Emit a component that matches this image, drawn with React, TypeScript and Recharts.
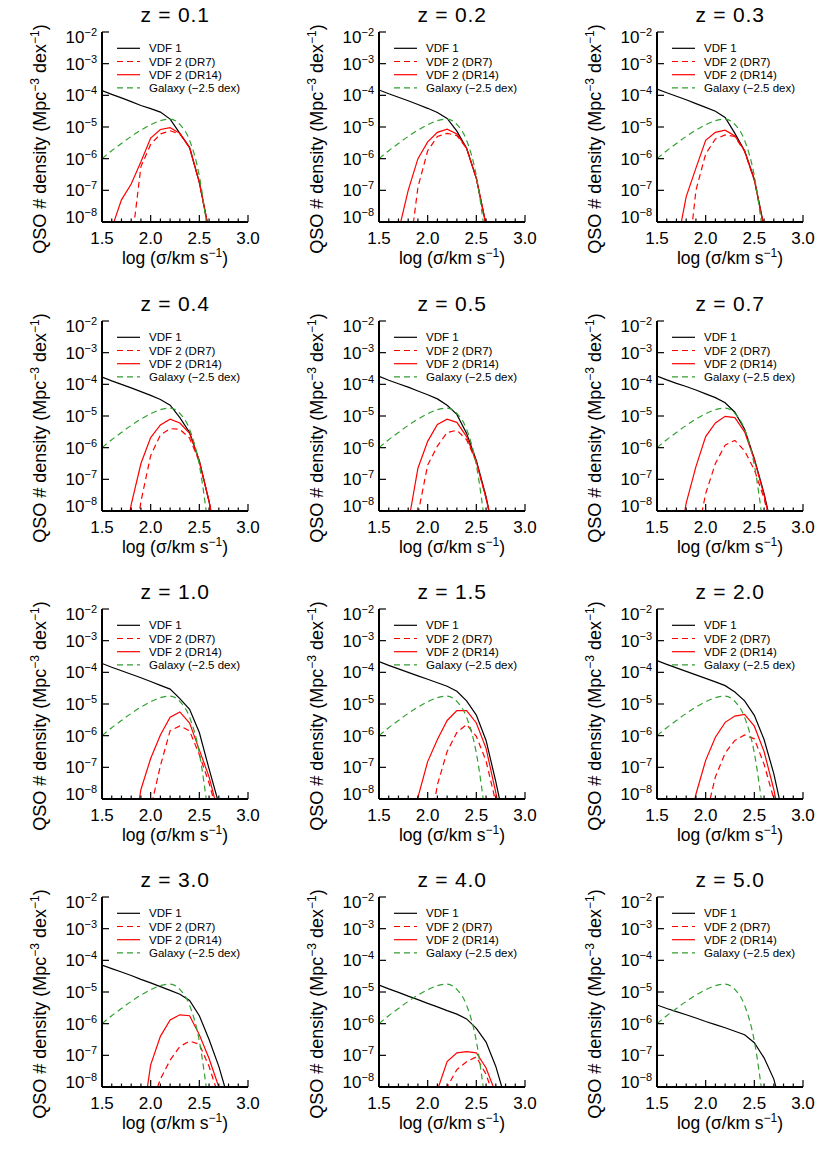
import React from 'react'
import { LineChart, Line, XAxis, YAxis, Customized } from 'recharts'

// log(sigma / km s^-1) points where the curves are read
const sigmaGrid = [1.5, 1.6, 1.7, 1.8, 1.9, 2.0, 2.1, 2.2, 2.3, 2.4, 2.5, 2.6, 2.7, 2.8]
const redshifts = ['0.1', '0.2', '0.3', '0.4', '0.5', '0.7', '1.0', '1.5', '2.0', '3.0', '4.0', '5.0']
const xTicks = [1.5, 1.6, 1.7, 1.8, 1.9, 2.0, 2.1, 2.2, 2.3, 2.4, 2.5, 2.6, 2.7, 2.8, 2.9, 3.0]
const xTickLabels = [1.5, 2.0, 2.5, 3.0]
const yTicks = [1e-8, 1e-7, 1e-6, 1e-5, 1e-4, 1e-3, 1e-2]

// log10 density, same galaxy curve in every panel
const galaxyLog = [-6.0, -5.75, -5.52, -5.3, -5.1, -4.93, -4.8, -4.75, -4.92, -5.42, -6.55, -8.7, null, null]

// log10 density, one row per redshift panel (null = not drawn)
const vdf1Log = [
  [-3.85, -3.97, -4.08, -4.2, -4.32, -4.42, -4.53, -4.75, -5.2, -5.65, -6.75, -8.3, null, null],
  [-3.83, -3.95, -4.06, -4.17, -4.29, -4.41, -4.54, -4.73, -5.13, -5.67, -6.62, -8.1, null, null],
  [-3.8, -3.92, -4.03, -4.14, -4.26, -4.38, -4.5, -4.7, -5.2, -5.75, -6.65, -8.15, null, null],
  [-3.77, -3.89, -4.0, -4.11, -4.23, -4.35, -4.48, -4.66, -5.05, -5.52, -6.42, -7.7, -9.3, null],
  [-3.75, -3.87, -3.98, -4.09, -4.21, -4.33, -4.46, -4.66, -4.95, -5.55, -6.4, -7.55, -9.0, null],
  [-3.74, -3.86, -3.97, -4.07, -4.18, -4.3, -4.42, -4.58, -4.88, -5.42, -6.35, -7.45, -8.8, null],
  [-3.72, -3.84, -3.95, -4.06, -4.17, -4.29, -4.41, -4.53, -4.83, -5.17, -5.9, -7.05, -8.15, null],
  [-3.66, -3.78, -3.89, -4.0, -4.11, -4.22, -4.33, -4.44, -4.6, -4.9, -5.35, -6.15, -7.45, -8.9],
  [-3.63, -3.75, -3.86, -3.97, -4.08, -4.19, -4.3, -4.42, -4.62, -4.9, -5.36, -6.12, -7.2, -8.6],
  [-4.15, -4.26, -4.37, -4.48, -4.6, -4.71, -4.83, -4.95, -5.07, -5.27, -5.75, -6.5, -7.35, -8.4],
  [-4.78, -4.9, -5.01, -5.13, -5.24, -5.36, -5.47, -5.59, -5.7, -5.85, -6.15, -6.58, -7.35, -8.4],
  [-5.41, -5.52, -5.62, -5.72, -5.82, -5.93, -6.03, -6.13, -6.24, -6.35, -6.6, -7.08, -7.75, -8.9],
]

const dr7Log = [
  [null, null, null, -8.8, -6.25, -5.55, -5.22, -5.12, -5.22, -5.65, -6.75, -8.3, null, null],
  [null, null, null, -9.3, -6.9, -5.75, -5.3, -5.2, -5.27, -5.67, -6.62, -8.1, null, null],
  [null, null, null, -9.8, -7.0, -5.85, -5.38, -5.25, -5.3, -5.77, -6.68, -8.2, null, null],
  [null, null, null, -9.8, -7.7, -6.25, -5.6, -5.4, -5.42, -5.7, -6.45, -7.7, -9.3, null],
  [null, null, null, null, -8.1, -6.55, -5.95, -5.52, -5.45, -5.75, -6.45, -7.6, -9.0, null],
  [null, null, null, null, -9.0, -7.45, -6.5, -5.92, -5.77, -6.1, -6.7, -7.6, -8.9, null],
  [null, null, null, null, -10.0, -8.3, -6.95, -5.84, -5.69, -5.85, -6.6, -7.5, -8.6, null],
  [null, null, null, null, null, -9.4, -7.55, -6.5, -5.9, -5.65, -6.02, -6.8, -8.1, -9.5],
  [null, null, null, null, null, -8.6, -7.3, -6.55, -6.15, -5.98, -6.1, -6.9, -8.0, -9.4],
  [null, null, null, null, null, -8.6, -7.75, -7.15, -6.72, -6.55, -6.65, -7.35, -8.3, -9.5],
  [null, null, null, null, null, null, -9.0, -8.0, -7.45, -7.2, -7.05, -7.6, -8.5, -9.6],
  [null, null, null, null, null, null, null, null, null, null, null, null, null, null],
]

const dr14Log = [
  [null, -8.2, -7.3, -6.8, -6.1, -5.35, -5.08, -5.02, -5.2, -5.65, -6.75, -8.3, null, null],
  [null, null, -8.3, -7.0, -6.0, -5.47, -5.17, -5.07, -5.22, -5.67, -6.62, -8.1, null, null],
  [null, null, -8.8, -7.2, -6.3, -5.42, -5.17, -5.1, -5.28, -5.75, -6.68, -8.2, null, null],
  [null, null, -9.5, -7.8, -6.5, -5.68, -5.28, -5.1, -5.22, -5.55, -6.42, -7.7, -9.3, null],
  [null, null, null, -8.4, -6.65, -5.8, -5.27, -5.1, -5.2, -5.65, -6.45, -7.6, -9.0, null],
  [null, null, -9.5, -7.75, -6.6, -5.65, -5.22, -5.01, -5.05, -5.5, -6.38, -7.5, -8.85, null],
  [null, null, null, -9.6, -7.7, -6.72, -5.98, -5.42, -5.25, -5.6, -6.45, -7.3, -8.5, null],
  [null, null, null, -9.5, -7.95, -6.82, -6.12, -5.52, -5.21, -5.21, -5.6, -6.4, -7.8, -9.3],
  [null, null, null, -9.3, -7.85, -6.78, -6.05, -5.58, -5.38, -5.33, -5.7, -6.5, -7.7, -9.2],
  [null, null, null, null, -9.4, -7.3, -6.4, -5.88, -5.72, -5.75, -6.35, -7.1, -8.0, -9.2],
  [null, null, null, null, null, -9.2, -8.1, -7.2, -6.92, -6.88, -6.92, -7.4, -8.2, -9.3],
  [null, null, null, null, null, null, null, null, null, null, null, null, null, null],
]

const FONT = '"Liberation Sans", Arial, Helvetica, sans-serif'
const RED = '#ff0000'
const GREEN = '#30a030'
const DASH = '6 4'

const PANEL_W = 277
const PANEL_H = 288
const MARGIN = { top: 32, right: 29, bottom: 26, left: 42 }
const Y_AXIS_W = 60
const X_AXIS_H = 40
const PLOT_L = MARGIN.left + Y_AXIS_W
const PLOT_T = MARGIN.top
const PLOT_W = PANEL_W - PLOT_L - MARGIN.right
const PLOT_H = PANEL_H - PLOT_T - MARGIN.bottom - X_AXIS_H
const colLeft = [0, 277, 555]
const rowTop = [0, 288.5, 576.5, 865]

const legendItems = [
  { label: 'VDF 1', color: '#000', dash: undefined },
  { label: 'VDF 2 (DR7)', color: RED, dash: DASH },
  { label: 'VDF 2 (DR14)', color: RED, dash: undefined },
  { label: 'Galaxy (\u22122.5 dex)', color: GREEN, dash: DASH },
]

const toLin = (v: number | null) => (v == null ? null : Math.pow(10, v))
const isMajorX = (v: number) => xTickLabels.some((t) => Math.abs(t - v) < 1e-6)
const axisLine = { stroke: '#000', strokeWidth: 2 }

function BottomTick(props: any) {
  const { x, y, payload } = props
  const major = isMajorX(payload.value)
  return (
    <g>
      <line x1={x} y1={y} x2={x} y2={y - (major ? 7 : 3.5)} stroke="#000" strokeWidth={1.2} />
      {major && (
        <text x={x} y={y + 22} textAnchor="middle" fontSize={17} fontFamily={FONT} fill="#000">
          {payload.value.toFixed(1)}
        </text>
      )}
    </g>
  )
}

function TopTick(props: any) {
  const { x, y, payload } = props
  const major = isMajorX(payload.value)
  return <line x1={x} y1={y} x2={x} y2={y + (major ? 7 : 3.5)} stroke="#000" strokeWidth={1.2} />
}

function LeftTick(props: any) {
  const { x, y, payload } = props
  const exp = Math.round(Math.log10(payload.value))
  // keep the end labels inside the axis span, like the original
  const shift = exp === -2 ? 5 : exp === -8 ? -5 : 0
  return (
    <g>
      <line x1={x} y1={y} x2={x + 7} y2={y} stroke="#000" strokeWidth={1.2} />
      <text x={x - 5} y={y + 6 + shift} textAnchor="end" fontSize={17} fontFamily={FONT} fill="#000">
        10
        <tspan dy={-7} fontSize={11}>
          {'\u2212' + Math.abs(exp)}
        </tspan>
      </text>
    </g>
  )
}

function RightTick(props: any) {
  const { x, y } = props
  return <line x1={x} y1={y} x2={x - 7} y2={y} stroke="#000" strokeWidth={1.2} />
}

function PanelText({ z }: { z: string }) {
  const cx = PLOT_L + PLOT_W / 2
  const yx = PLOT_L - 56
  const yy = PLOT_T + PLOT_H / 2 + 12
  return (
    <g fontFamily={FONT} fill="#000">
      <text x={cx} y={PLOT_T - 10.5} textAnchor="middle" fontSize={21} letterSpacing={0.8}>
        z = {z}
      </text>
      <text x={cx} y={PLOT_T + PLOT_H + 42} textAnchor="middle" fontSize={17.5}>
        log ({'\u03c3'}/km s
        <tspan dy={-7} fontSize={12}>
          {'\u22121'}
        </tspan>
        <tspan dy={7}>)</tspan>
      </text>
      <text x={yx} y={yy} textAnchor="middle" fontSize={18} transform={`rotate(-90 ${yx} ${yy})`}>
        QSO # density (Mpc
        <tspan dy={-7} fontSize={12}>
          {'\u22123'}
        </tspan>
        <tspan dy={7}> dex</tspan>
        <tspan dy={-7} fontSize={12}>
          {'\u22121'}
        </tspan>
        <tspan dy={7}>)</tspan>
      </text>
      {legendItems.map((it, i) => {
        const cy = PLOT_T + 16.3 + 13.2 * i
        return (
          <g key={it.label}>
            <line
              x1={PLOT_L + 15}
              x2={PLOT_L + 38}
              y1={cy}
              y2={cy}
              stroke={it.color}
              strokeWidth={1.2}
              strokeDasharray={it.dash}
            />
            <text x={PLOT_L + 47} y={cy + 4} fontSize={11.5}>
              {it.label}
            </text>
          </g>
        )
      })}
    </g>
  )
}

function Panel({ index }: { index: number }) {
  const rows = sigmaGrid.map((s, i) => ({
    s,
    vdf1: toLin(vdf1Log[index][i]),
    dr7: toLin(dr7Log[index][i]),
    dr14: toLin(dr14Log[index][i]),
    galaxy: toLin(galaxyLog[i]),
  }))
  return (
    <LineChart width={PANEL_W} height={PANEL_H} data={rows} margin={MARGIN}>
      <XAxis
        dataKey="s"
        type="number"
        domain={[1.5, 3.0]}
        ticks={xTicks}
        interval={0}
        allowDataOverflow
        height={X_AXIS_H}
        tickLine={false}
        tickSize={0}
        tickMargin={0}
        axisLine={axisLine}
        tick={BottomTick}
      />
      <XAxis
        xAxisId="top"
        orientation="top"
        dataKey="s"
        type="number"
        domain={[1.5, 3.0]}
        ticks={xTicks}
        interval={0}
        allowDataOverflow
        height={0}
        tickLine={false}
        tickSize={0}
        tickMargin={0}
        axisLine={axisLine}
        tick={TopTick}
      />
      <YAxis
        type="number"
        scale="log"
        domain={[1e-8, 1e-2]}
        ticks={yTicks}
        interval={0}
        allowDataOverflow
        width={Y_AXIS_W}
        tickLine={false}
        tickSize={0}
        tickMargin={0}
        axisLine={axisLine}
        tick={LeftTick}
      />
      <YAxis
        yAxisId="right"
        orientation="right"
        type="number"
        scale="log"
        domain={[1e-8, 1e-2]}
        ticks={yTicks}
        interval={0}
        allowDataOverflow
        width={0}
        tickLine={false}
        tickSize={0}
        tickMargin={0}
        axisLine={axisLine}
        tick={RightTick}
      />
      <Line dataKey="vdf1" stroke="#000" strokeWidth={1.2} dot={false} isAnimationActive={false} />
      <Line dataKey="dr7" stroke={RED} strokeWidth={1.2} strokeDasharray={DASH} dot={false} isAnimationActive={false} />
      <Line dataKey="dr14" stroke={RED} strokeWidth={1.2} dot={false} isAnimationActive={false} />
      <Line
        dataKey="galaxy"
        type="monotone"
        stroke={GREEN}
        strokeWidth={1.2}
        strokeDasharray={DASH}
        dot={false}
        isAnimationActive={false}
      />
      <Customized component={<PanelText z={redshifts[index]} />} />
    </LineChart>
  )
}

export default function App() {
  return (
    <div style={{ position: 'absolute', left: 0, top: 0, width: 830, height: 1153, background: '#fff' }}>
      {redshifts.map((z, i) => (
        <div
          key={z}
          style={{ position: 'absolute', left: colLeft[i % 3], top: rowTop[Math.floor(i / 3)], width: PANEL_W, height: PANEL_H }}
        >
          <Panel index={i} />
        </div>
      ))}
    </div>
  )
}
